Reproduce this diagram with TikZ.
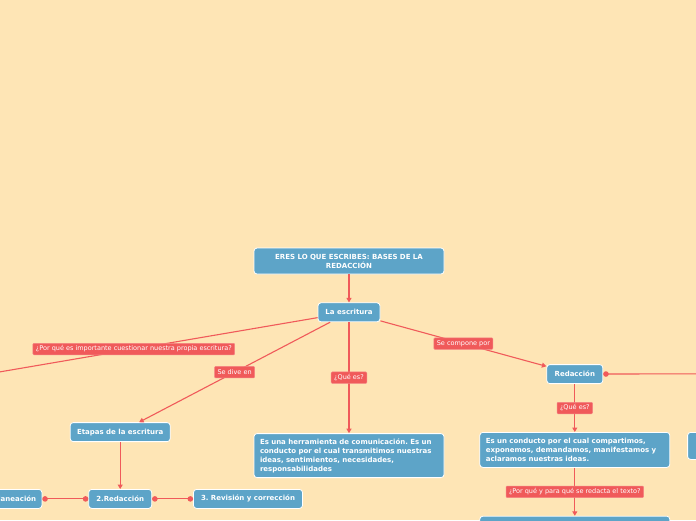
\documentclass[tikz,border=0pt]{standalone}
\usepackage{fontspec}
\setmainfont{DejaVu Sans}
\usetikzlibrary{arrows.meta, positioning}
\definecolor{mmpeach}{HTML}{FEE5B5}
\definecolor{mmblue}{HTML}{5DA4C8}
\definecolor{mmred}{HTML}{F05A5A}
\frenchspacing

\begin{document}
\begin{tikzpicture}[x=1pt, y=-1pt,
        topic/.style={rounded corners=3pt, fill=mmblue, draw=white, line width=0.8pt, text=white,
          font=\fontsize{7}{9}\selectfont\bfseries, minimum height=19pt, inner sep=3pt, align=center},
        tag/.style={rounded corners=1pt, fill=mmred, draw=mmred!75!white, line width=0.5pt, text=white,
          font=\fontsize{6.5}{7}\selectfont, inner xsep=3pt, inner ysep=2pt, minimum height=11.5pt},
        arr/.style={-{Triangle[length=4.5pt,width=5pt]}, draw=mmred, line width=1.1pt},
        link/.style={{Circle[length=5.5pt]}-{Circle[length=5.5pt]}, draw=mmred, line width=1.1pt}]
        \useasboundingbox[fill=mmpeach] (0,0) rectangle (696,520);
        \clip (0,0) rectangle (696,520);
        \node[topic, minimum width=190pt, minimum height=26pt, text width=180pt] (root) at (349,261) {ERES LO QUE ESCRIBES: BASES DE LA\\REDACCIÓN};
        \node[topic, minimum width=62pt, below=28pt of root] (escritura) {La escritura};
        \node[topic, minimum width=100pt, below left=100pt and 147pt of escritura] (etapas) {Etapas de la escritura};
        \node[topic, minimum width=190pt, minimum height=44pt, text width=178pt, align=left, below=111pt of escritura] (herramienta) {Es una herramienta de comunicación. Es un\\conducto por el cual transmitimos nuestras\\ideas, sentimientos, necesidades,\\responsabilidades};
        \node[topic, minimum width=56pt, below right=42pt and 166pt of escritura] (redaccion) {Redacción};
        \node[topic, minimum width=190pt, minimum height=35pt, text width=178pt, align=left, below=48pt of redaccion] (conducto) {Es un conducto por el cual compartimos,\\exponemos, demandamos, manifestamos y\\aclaramos nuestras ideas.};
        \node[topic, minimum width=190pt, minimum height=30pt, below=48pt of conducto] (porque) {};
        \node[topic, minimum width=60pt, minimum height=27pt, right=17pt of conducto.north east, anchor=north west] (extra) {};
        \node[topic, minimum width=63pt, below=47pt of etapas] (dos) {2.Redacción};
        \node[topic, minimum width=109pt, right=41pt of dos] (tres) {3. Revisión y corrección};
        \node[topic, minimum width=62pt, left=46pt of dos] (uno) {1.Planeación};
        \coordinate (izq) at (-200,406);
        \coordinate (der) at (820,373.5);
        \draw[arr] (root) -- (escritura);
        \draw[arr] (escritura) -- node[tag, pos=0.355] {¿Por qué es importante cuestionar nuestra propia escritura?} (izq);
        \draw[arr] (escritura) -- node[tag] {Se dive en} (etapas);
        \draw[arr] (escritura) -- node[tag] {¿Qué es?} (herramienta);
        \draw[arr] (escritura) -- node[tag] {Se compone por} (redaccion);
        \draw[arr] (redaccion) -- node[tag] {¿Qué es?} (conducto);
        \draw[arr] (conducto) -- node[tag] {¿Por qué y para qué se redacta el texto?} (porque);
        \draw[arr] (etapas) -- (dos);
        \draw[link] (dos) -- (uno);
        \draw[link] (dos) -- (tres);
        \draw[link] (redaccion) -- (der);
      \end{tikzpicture}
\end{document}
